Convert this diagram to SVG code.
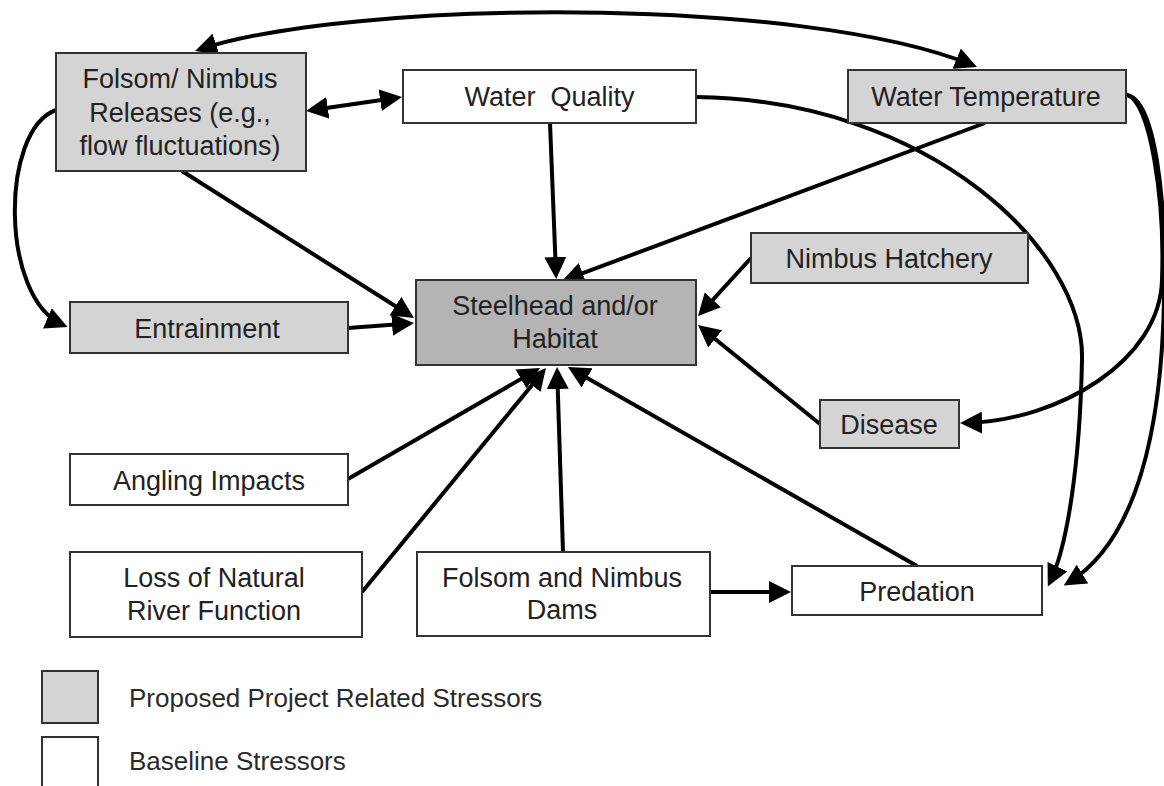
<svg xmlns="http://www.w3.org/2000/svg" width="1164" height="786" viewBox="0 0 1164 786">
<style>
.box{stroke:#333;stroke-width:2}
.lt{fill:#d4d4d4}
.dk{fill:#b4b4b4}
.wh{fill:#fff}
text{font-family:"Liberation Sans",Arial,sans-serif;font-size:27px;fill:#222;text-anchor:middle}
.leg{text-anchor:start;font-size:26px;fill:#2a2a2a}
.c{fill:none;stroke:#000;stroke-width:4}
.e{marker-end:url(#ah)}
.b{marker-start:url(#ah);marker-end:url(#ah)}
</style>
<defs>
<marker id="ah" viewBox="0 0 22 22" refX="17" refY="11" markerWidth="22" markerHeight="22" markerUnits="userSpaceOnUse" orient="auto-start-reverse">
<path d="M0,0 L22,11 L0,22 z" fill="#000"/>
</marker>
</defs>
<rect width="1164" height="786" fill="#fff"/>
<g id="connectors">
<path class="c b" d="M199.8,49.4 C350,0 800,-5 972.4,65.1"/>
<path class="c b" d="M311,110.3 L397,97.7"/>
<path class="c e" d="M550,123 L556,274"/>
<path class="c e" d="M985,123 L566.7,279.2"/>
<path class="c e" d="M182,171 L409.8,315.3"/>
<path class="c e" d="M348,328 L409,323.4"/>
<path class="c e" d="M56,110 C0,130 0,298 63,325"/>
<path class="c e" d="M696,97 C930,100 1085,250 1082,360 C1080,460 1068,545 1050,582"/>
<path class="c e" d="M1127,95 C1150,100 1165,200 1162,280 C1160,360 1060,421 965,423"/>
<path class="c e" d="M1127,95 C1155,100 1167,200 1164,300 C1161,450 1130,545 1068,583"/>
<path class="c e" d="M751,258 L701.4,312.3"/>
<path class="c e" d="M820,424 L701.9,328.2"/>
<path class="c e" d="M348,479 L535.7,370.5"/>
<path class="c e" d="M362,592 L542.8,371.9"/>
<path class="c e" d="M563,552 L557.2,372"/>
<path class="c e" d="M917,566 L572.3,369.5"/>
<path class="c e" d="M710,592 L786,592"/>
</g>
<g id="n_releases"><rect class="box lt" x="56" y="53" width="250" height="118"/><text x="180" y="88">Folsom/ Nimbus</text><text x="180" y="122">Releases (e.g.,</text><text x="180" y="155">flow fluctuations)</text></g>
<g id="n_water_quality"><rect class="box wh" x="403" y="70" width="293" height="53"/><text x="549.5" y="106" style="white-space:pre">Water  Quality</text></g>
<g id="n_water_temperature"><rect class="box lt" x="848" y="70" width="278" height="53"/><text x="986" y="106">Water Temperature</text></g>
<g id="n_entrainment"><rect class="box lt" x="70" y="302" width="278" height="51"/><text x="207" y="338">Entrainment</text></g>
<g id="n_steelhead"><rect class="box dk" x="416" y="280" width="280" height="85"/><text x="555" y="315">Steelhead and/or</text><text x="555" y="348">Habitat</text></g>
<g id="n_hatchery"><rect class="box lt" x="751" y="233" width="277" height="50"/><text x="889" y="268">Nimbus Hatchery</text></g>
<g id="n_disease"><rect class="box lt" x="820" y="400" width="139" height="48"/><text x="889" y="434">Disease</text></g>
<g id="n_angling"><rect class="box wh" x="70" y="454" width="278" height="51"/><text x="209" y="490">Angling Impacts</text></g>
<g id="n_loss"><rect class="box wh" x="70" y="552" width="292" height="85"/><text x="214" y="587">Loss of Natural</text><text x="214" y="620">River Function</text></g>
<g id="n_dams"><rect class="box wh" x="417" y="552" width="293" height="84"/><text x="562" y="587">Folsom and Nimbus</text><text x="562" y="619">Dams</text></g>
<g id="n_predation"><rect class="box wh" x="792" y="566" width="250" height="49"/><text x="917" y="601">Predation</text></g>
<g id="legend">
<rect class="box lt" x="42" y="671" width="56" height="52"/>
<text class="leg" x="129" y="707">Proposed Project Related Stressors</text>
<rect class="box wh" x="42" y="737" width="56" height="60"/>
<text class="leg" x="129" y="770">Baseline Stressors</text>
</g>
</svg>
